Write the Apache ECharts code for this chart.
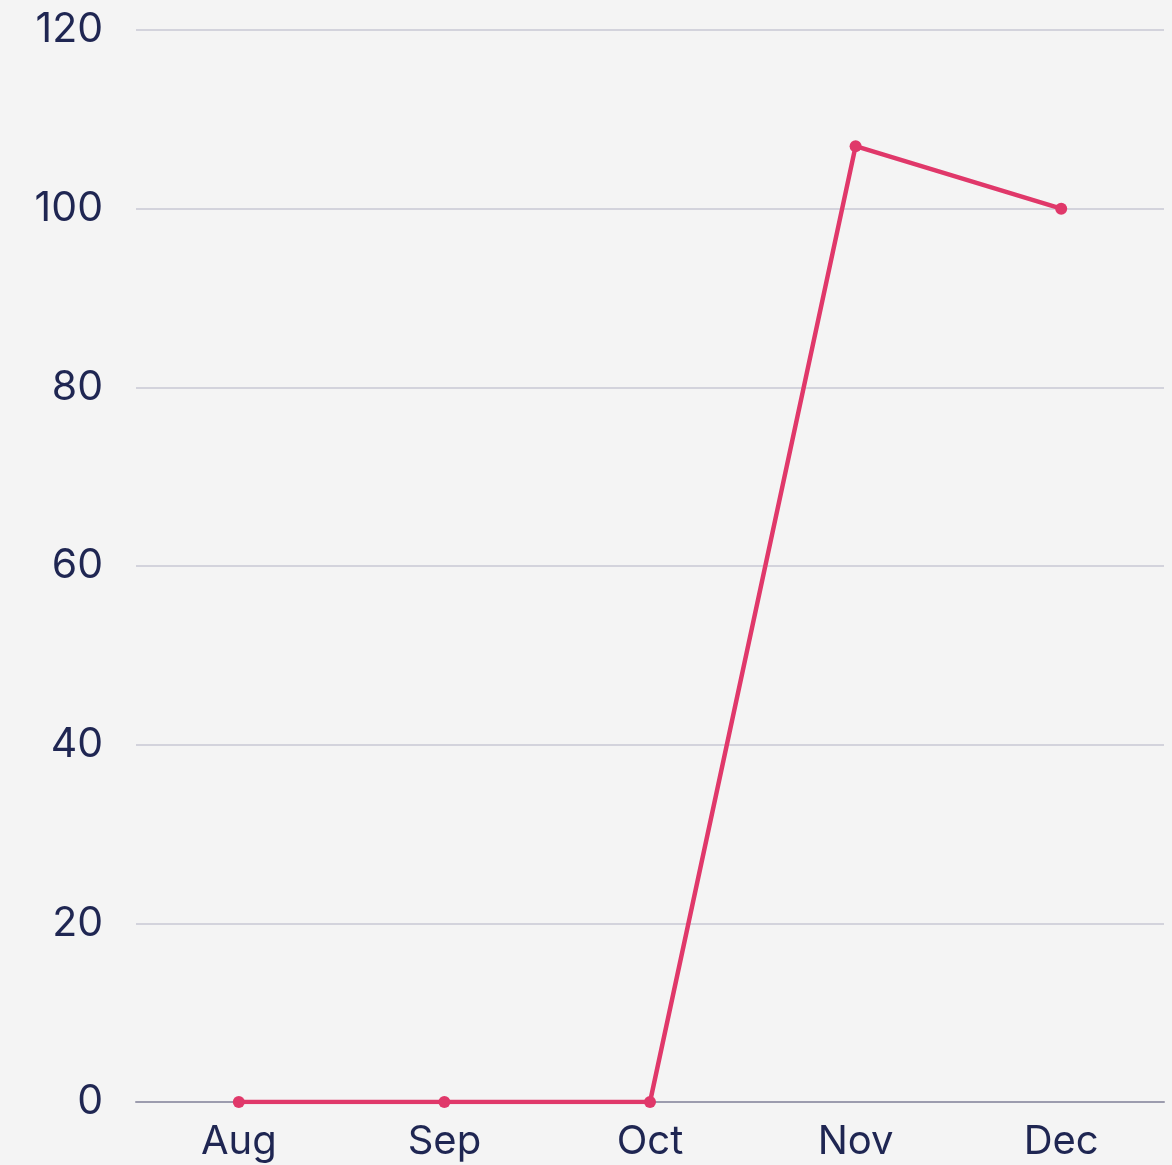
<!DOCTYPE html>
<html><head><meta charset="utf-8">
<script src="https://cdn.jsdelivr.net/npm/echarts@6/dist/echarts.min.js"></script>
<style>html,body{margin:0;padding:0;background:#f4f4f4;}#c{width:1172px;height:1165px;}</style>
</head><body><div id="c"></div>
<script>
const categories = ['Aug', 'Sep', 'Oct', 'Nov', 'Dec'];
const values = [0, 0, 0, 107, 100];
const yTicks = [0, 20, 40, 60, 80, 100, 120];

const chart = echarts.init(document.getElementById('c'));
chart.setOption({
  backgroundColor: '#f4f4f4',
  animation: false,
  grid: { left: 136, right: 8, top: 30, bottom: 63 },
  xAxis: {
    type: 'category', data: categories, boundaryGap: true,
    axisLine: { lineStyle: { color: '#9c9cae', width: 2 } },
    axisTick: { show: false },
    axisLabel: { color: '#1f2652', fontSize: 40, fontFamily: 'Inter', margin: 20 }
  },
  yAxis: {
    type: 'value', min: yTicks[0], max: yTicks[yTicks.length - 1], interval: 20,
    axisLine: { show: false }, axisTick: { show: false },
    splitLine: { lineStyle: { color: '#c9c9d5', width: 1.5 } },
    axisLabel: { color: '#1f2652', fontSize: 41, fontFamily: 'Inter', margin: 33, padding: [4, 0, 0, 0] }
  },
  series: [{
    type: 'line', data: values,
    lineStyle: { color: '#e0386a', width: 4.5 },
    itemStyle: { color: '#e0386a' },
    symbol: 'circle', symbolSize: 12, showSymbol: true
  }]
});
</script></body></html>
